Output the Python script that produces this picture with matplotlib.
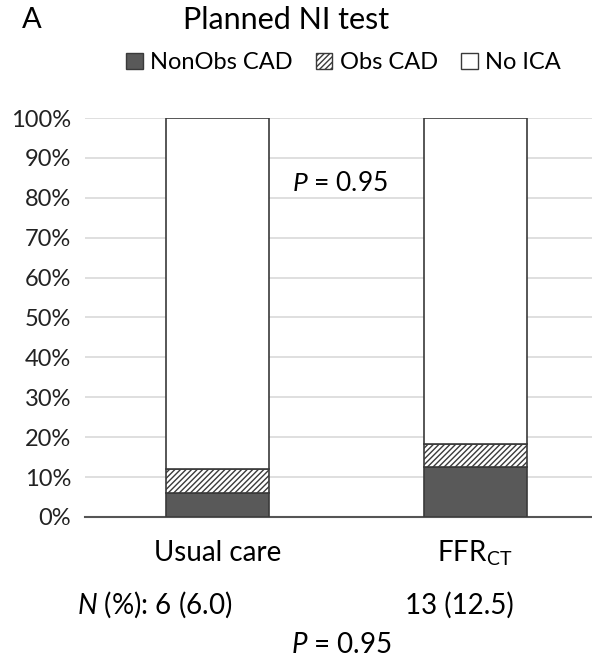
import matplotlib.pyplot as plt
from matplotlib.patches import Patch

plt.rcParams['font.family'] = ['Lato', 'DejaVu Sans']
plt.rcParams['mathtext.fontset'] = 'custom'
plt.rcParams['mathtext.rm'] = 'Lato'
plt.rcParams['mathtext.it'] = 'Lato:italic'
plt.rcParams['hatch.color'] = '#8c8c8c'
plt.rcParams['hatch.linewidth'] = 1.0

groups = ["Usual care", "FFR$_{\\mathrm{CT}}$"]
nonobs = [6.0, 12.5]
obs = [6.0, 5.8]
noica = [100 - a - b for a, b in zip(nonobs, obs)]
n_labels = ["$\\it{N}$ (%): 6 (6.0)", "13 (12.5)"]
yticks = list(range(0, 101, 10))

fig = plt.figure(figsize=(5.92, 6.6), dpi=100)
ax = fig.add_axes([85 / 592, 0.2167, 1 - 85 / 592, 0.6045])

x = [0, 1]
w = 0.4
edge = '#3a3a3a'
ax.bar(x, nonobs, w, color='#595959', edgecolor=edge, linewidth=1.2, zorder=3)
ax.bar(x, obs, w, bottom=nonobs, color='white', edgecolor=edge, hatch='//////', linewidth=1.2, zorder=3)
bot2 = [a + b for a, b in zip(nonobs, obs)]
ax.bar(x, noica, w, bottom=bot2, color='white', edgecolor=edge, linewidth=1.2, zorder=3)

ax.set_xlim(-0.514, 1.451)
ax.set_ylim(0, 100)
ax.set_yticks(yticks)
ax.set_yticklabels([f"{t}%" for t in yticks], fontsize=17, color='#222222')
ax.set_xticks([])
ax.grid(axis='y', color='#d9d9d9', linewidth=1.2, zorder=0)
for s in ['top', 'right', 'left']:
    ax.spines[s].set_visible(False)
ax.spines['bottom'].set_color('#555555')
ax.spines['bottom'].set_linewidth(1.5)
ax.tick_params(axis='y', length=0, pad=10)

ax.text(0.475, 83.7, "$\\it{P}$ = 0.95", ha='center', va='center', fontsize=19, zorder=4)

# labels under the bars
ax.text(0, -9, groups[0], ha='center', va='center', fontsize=20)
ax.text(0.995, -9, groups[1], ha='center', va='center', fontsize=20)
ax.text(-0.242, -22.1, n_labels[0], ha='center', va='center', fontsize=20)
ax.text(0.936, -22.1, n_labels[1], ha='center', va='center', fontsize=20)
ax.text(0.479, -32.0, "$\\it{P}$ = 0.95", ha='center', va='center', fontsize=20)

fig.text(22 / 592, 0.970, "A", fontsize=21, ha='left', va='center')
fig.text(0.483, 0.970, "Planned NI test", fontsize=22, ha='center', va='center')

handles = [Patch(facecolor='#595959', edgecolor=edge),
           Patch(facecolor='white', edgecolor=edge, hatch='//////'),
           Patch(facecolor='white', edgecolor=edge)]
fig.legend(handles, ["NonObs CAD", "Obs CAD", "No ICA"], loc='center',
           bbox_to_anchor=(0.580, 0.905), ncol=3, frameon=False, fontsize=17,
           handlelength=0.7, handleheight=0.7, handletextpad=0.3, columnspacing=1.0)

fig.savefig("out.png", dpi=100)
